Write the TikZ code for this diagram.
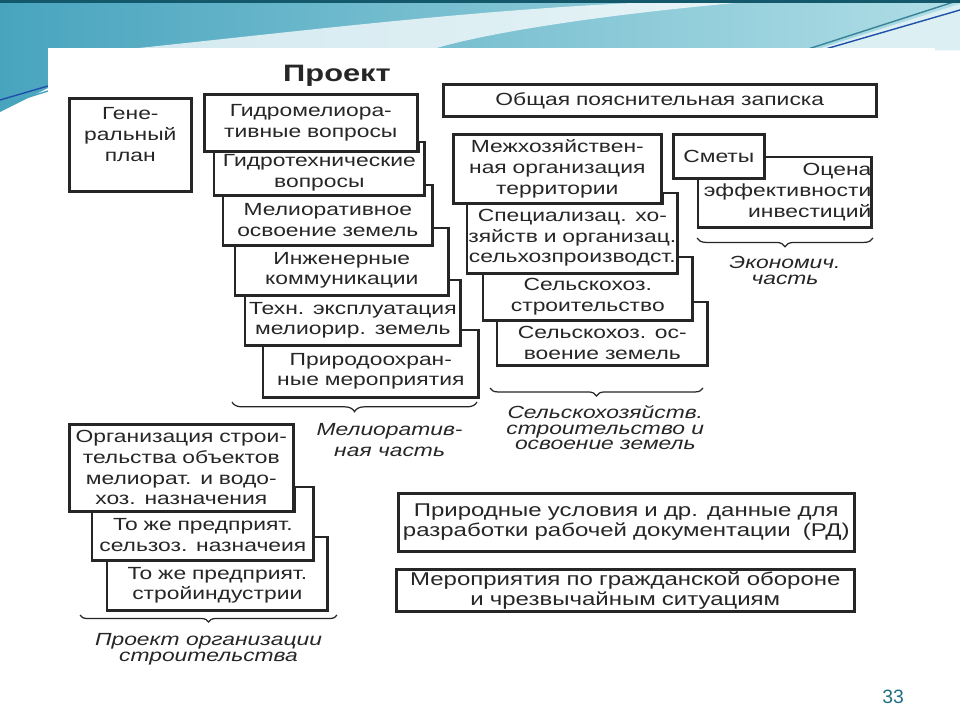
\documentclass[tikz,border=0pt]{standalone}
\usepackage{fontspec}
\setmainfont{Liberation Sans}
\newfontfamily\scanfont[FakeStretch=1.3]{Liberation Sans}
\usetikzlibrary{positioning, decorations.pathreplacing}
\definecolor{ink}{RGB}{38, 38, 38}
\definecolor{slideTeal}{RGB}{72, 164, 190}
\definecolor{slideSky}{RGB}{176, 222, 230}
\definecolor{slideEdge}{RGB}{20, 88, 108}
\definecolor{slideLine}{RGB}{30, 80, 170}
\definecolor{pageNum}{RGB}{32, 112, 132}
% back card: outline of the visible part, with the step up behind the card in front
\newcommand{\tuck}[3]{\draw[rim] (#1.north west) -- (#1.south west) -- (#1.south east)
  -- ([yshift=#3]#1.north east) -| (#2.south east);}

\begin{document}
\begin{tikzpicture}[
      x=0.02cm, y=-0.02cm,
      card/.style={anchor=north west, inner sep=0pt, align=center, text=ink,
        font=\scanfont\fontsize{10}{11.8}\selectfont},
      panel/.style={card, draw=ink, line width=1.5pt, fill=white},
      rim/.style={draw=ink, line width=1.5pt},
      curly/.style={decorate, decoration={brace, amplitude=#1, mirror}, draw=ink, line width=0.7pt},
      caption/.style={anchor=north, inner sep=0pt, align=center, text=ink,
        font=\scanfont\itshape\fontsize{10}{9}\selectfont}
    ]
      \useasboundingbox (0,0) rectangle (960,720);
      % slide background
      \fill[white] (0,0) rectangle (960,720);
      \shade[left color=slideTeal, right color=slideSky]
        (0,0) -- (960,0) -- (960,50) -- (48,50) -- (48,88) -- (0,112) -- cycle;
      \fill[white, opacity=0.75] (120,50) .. controls (330,28) and (520,4) .. (720,0)
        -- (770,0) .. controls (600,14) and (480,34) .. (430,50) -- cycle;
      \fill[slideSky!45!white] (815,50) -- (960,4) -- (960,50) -- cycle;
      \draw[slideTeal!80!black, line width=0.8pt] (805,50) -- (960,0);
      \draw[slideLine, line width=0.8pt] (822,50) -- (960,10);
      \draw[slideLine, line width=0.8pt] (0,100) -- (48,86);
      \draw[slideTeal, line width=0.8pt] (0,106) -- (48,91);
      \fill[white] (48,48) rectangle (935,720);
      \fill[slideEdge] (0,0) rectangle (960,3);

      \node[text=ink, font=\scanfont\bfseries\fontsize{13.5}{14}\selectfont] (title) at (337,76) {Проект};
      \node[panel, text width=2.44cm, minimum height=1.86cm] (genplan) at (68,97) {Гене-\\ральный\\план\\\mbox{}};
      \node[panel, text width=8.66cm, minimum height=0.64cm] (notes) at (442,83) {Общая пояснительная записка};

      % melioration part
      \node[panel, text width=4.26cm, minimum height=1.14cm] (mel1) at (203,93) {Гидромелиора-\\тивные вопросы};
      \node[card, text width=4.20cm, minimum height=0.90cm] (mel2) at (214,150) {Гидротехнические\\вопросы};
      \node[card, text width=4.18cm, minimum height=1.00cm] (mel3) at (223,195) {Мелиоративное\\освоение земель};
      \node[card, text width=4.26cm, minimum height=1.00cm] (mel4) at (235,245) {Инженерные\\коммуникации};
      \node[card, text width=4.30cm, minimum height=1.00cm] (mel5) at (245,295) {Техн. эксплуатация\\мелиорир. земель};
      \node[card, text width=4.30cm, minimum height=1.04cm] (mel6) at (263,345) {Природоохран-\\ные мероприятия};
      \tuck{mel2}{mel1}{4.5pt}
      \tuck{mel3}{mel2}{5.7pt}
      \tuck{mel4}{mel3}{9.7pt}
      \tuck{mel5}{mel4}{8.5pt}
      \tuck{mel6}{mel5}{8.5pt}
      \draw[curly=5.5pt] (232,402) -- (477,402)
        node[caption, midway, below=12pt, xshift=20pt] (melcap) {Мелиоратив-\\[3pt]ная часть};

      % agricultural part
      \node[panel, text width=4.16cm, minimum height=1.38cm] (agr1) at (452,133) {Межхозяйствен-\\ная организация\\территории};
      \node[card, text width=4.20cm, minimum height=1.42cm] (agr2) at (467,202) {Специализац. хо-\\зяйств и организац.\\сельхозпроизводст.};
      \node[card, text width=4.18cm, minimum height=0.94cm] (agr3) at (483,273) {Сельскохоз.\\строительство};
      \node[card, text width=4.20cm, minimum height=0.90cm] (agr4) at (497,320) {Сельскохоз. ос-\\воение земель};
      \tuck{agr2}{agr1}{5.1pt}
      \tuck{agr3}{agr2}{9.1pt}
      \tuck{agr4}{agr3}{10.2pt}
      \draw[curly=4.5pt] (490,388) -- (703,388)
        node[caption, midway, below=9.5pt, xshift=5pt] (agrcap) {Сельскохозяйств.\\строительство и\\освоение земель};

      % economic part
      \node[panel, text width=1.82cm, minimum height=0.88cm] (smety) at (672,133) {Сметы};
      \node[card, align=right, text width=3.46cm, minimum height=1.40cm] (ocen) at (698,157) {Оцена\\эффективности\\инвестиций};
      \draw[rim] (ocen.west |- smety.south) -- (ocen.south west) -- (ocen.south east)
        -- (ocen.north east) -- (ocen.north -| smety.east);
      \draw[curly=5pt] (697,238) -- (873,238)
        node[caption, midway, below=10pt] (ecocap) {Экономич.\\часть};

      % construction organisation
      \node[panel, text width=4.48cm, minimum height=1.74cm] (org1) at (68,423) {Организация строи-\\тельства объектов\\мелиорат. и водо-\\хоз. назначения};
      \node[card, text width=4.42cm, minimum height=1.00cm] (org2) at (92,510) {То же предприят.\\сельзоз. назначеия};
      \node[card, text width=4.40cm, minimum height=1.00cm] (org3) at (107,560) {То же предприят.\\стройиндустрии};
      \tuck{org2}{org1}{13pt}
      \tuck{org3}{org2}{13pt}
      \draw[curly=4pt] (80,615) -- (337,615)
        node[caption, midway, below=10pt] (orgcap) {Проект организации\\строительства};

      \node[panel, text width=9.12cm, minimum height=1.16cm, font=\scanfont\fontsize{10.5}{11.5}\selectfont]
        (rd) at (397,492) {Природные условия и др. данные для\\разработки рабочей документации~~(РД)};
      \node[panel, text width=9.16cm, minimum height=0.84cm, font=\scanfont\fontsize{10.5}{11.5}\selectfont]
        (civil) at (395,568) {Мероприятия по гражданской обороне\\и чрезвычайным ситуациям};

      \node[text=pageNum, font=\fontsize{11}{12}\selectfont] (pagenum) at (893,697) {33};
    \end{tikzpicture}
\end{document}
